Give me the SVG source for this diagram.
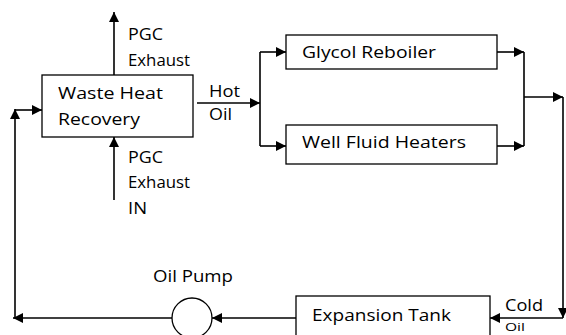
<svg xmlns="http://www.w3.org/2000/svg" width="566" height="335" viewBox="0 0 566 335">
<defs>
<marker id="ah" viewBox="0 0 10 10" refX="10" refY="5" markerWidth="10" markerHeight="10" markerUnits="userSpaceOnUse" orient="auto">
<path d="M0,0 L10,5 L0,10 Z" fill="#000"/>
</marker>
</defs>
<style>
.box{fill:#fff;stroke:#000;stroke-width:1.3}
.ln{fill:none;stroke:#000;stroke-width:1.6}
.ar{fill:none;stroke:#000;stroke-width:1.6;marker-end:url(#ah)}
text{font-family:"Open Sans","Noto Sans",sans-serif;font-size:15.5px;fill:#000}
.sm{font-size:11.5px}
</style>
<rect width="566" height="335" fill="#fff"/>
<g id="connectors">
<path class="ar" d="M114,75 V12"/>
<path class="ar" d="M114,200 V137"/>
<path class="ar" d="M197,103 H260"/>
<path class="ln" d="M260,52 V146"/>
<path class="ar" d="M260,52 H286"/>
<path class="ar" d="M260,146 H286"/>
<path class="ar" d="M497,52 H524"/>
<path class="ar" d="M497,146 H524"/>
<path class="ln" d="M524,52 V146"/>
<path class="ar" d="M524,97 H563"/>
<path class="ar" d="M563,97 V318"/>
<path class="ar" d="M563,318 H490"/>
<path class="ar" d="M296,318 H212"/>
<path class="ar" d="M172,318 H13"/>
<path class="ar" d="M15,318 V109"/>
<path class="ar" d="M15,110 H42"/>
</g>
<g id="whr">
<rect class="box" x="42" y="75" width="151" height="62"/>
<text x="58" y="99" textLength="105" lengthAdjust="spacingAndGlyphs">Waste Heat</text>
<text x="58" y="125" textLength="82" lengthAdjust="spacingAndGlyphs">Recovery</text>
</g>
<g id="pgc-out">
<text x="128" y="40" textLength="35" lengthAdjust="spacingAndGlyphs">PGC</text>
<text x="128" y="66" textLength="62" lengthAdjust="spacingAndGlyphs">Exhaust</text>
</g>
<g id="pgc-in">
<text x="128" y="163" textLength="35" lengthAdjust="spacingAndGlyphs">PGC</text>
<text x="128" y="188" textLength="62" lengthAdjust="spacingAndGlyphs">Exhaust</text>
<text x="128" y="214" textLength="19" lengthAdjust="spacingAndGlyphs">IN</text>
</g>
<g id="hot-oil">
<text x="209" y="97" textLength="31" lengthAdjust="spacingAndGlyphs">Hot</text>
<text x="209" y="120" textLength="23" lengthAdjust="spacingAndGlyphs">Oil</text>
</g>
<g id="glycol">
<rect class="box" x="286" y="35" width="211" height="34"/>
<text x="302" y="58" textLength="134" lengthAdjust="spacingAndGlyphs">Glycol Reboiler</text>
</g>
<g id="wellfluid">
<rect class="box" x="286" y="125" width="211" height="39"/>
<text x="302" y="148" textLength="164" lengthAdjust="spacingAndGlyphs">Well Fluid Heaters</text>
</g>
<g id="tank">
<rect class="box" x="296" y="296" width="194" height="50"/>
<text x="312" y="321" textLength="139" lengthAdjust="spacingAndGlyphs">Expansion Tank</text>
</g>
<g id="cold-oil">
<text x="505" y="311" textLength="38" lengthAdjust="spacingAndGlyphs">Cold</text>
<text class="sm" x="505" y="331" textLength="20" lengthAdjust="spacingAndGlyphs">Oil</text>
</g>
<g id="pump">
<circle class="box" cx="192" cy="318" r="20"/>
<text x="153" y="282" textLength="80" lengthAdjust="spacingAndGlyphs">Oil Pump</text>
</g>
</svg>
